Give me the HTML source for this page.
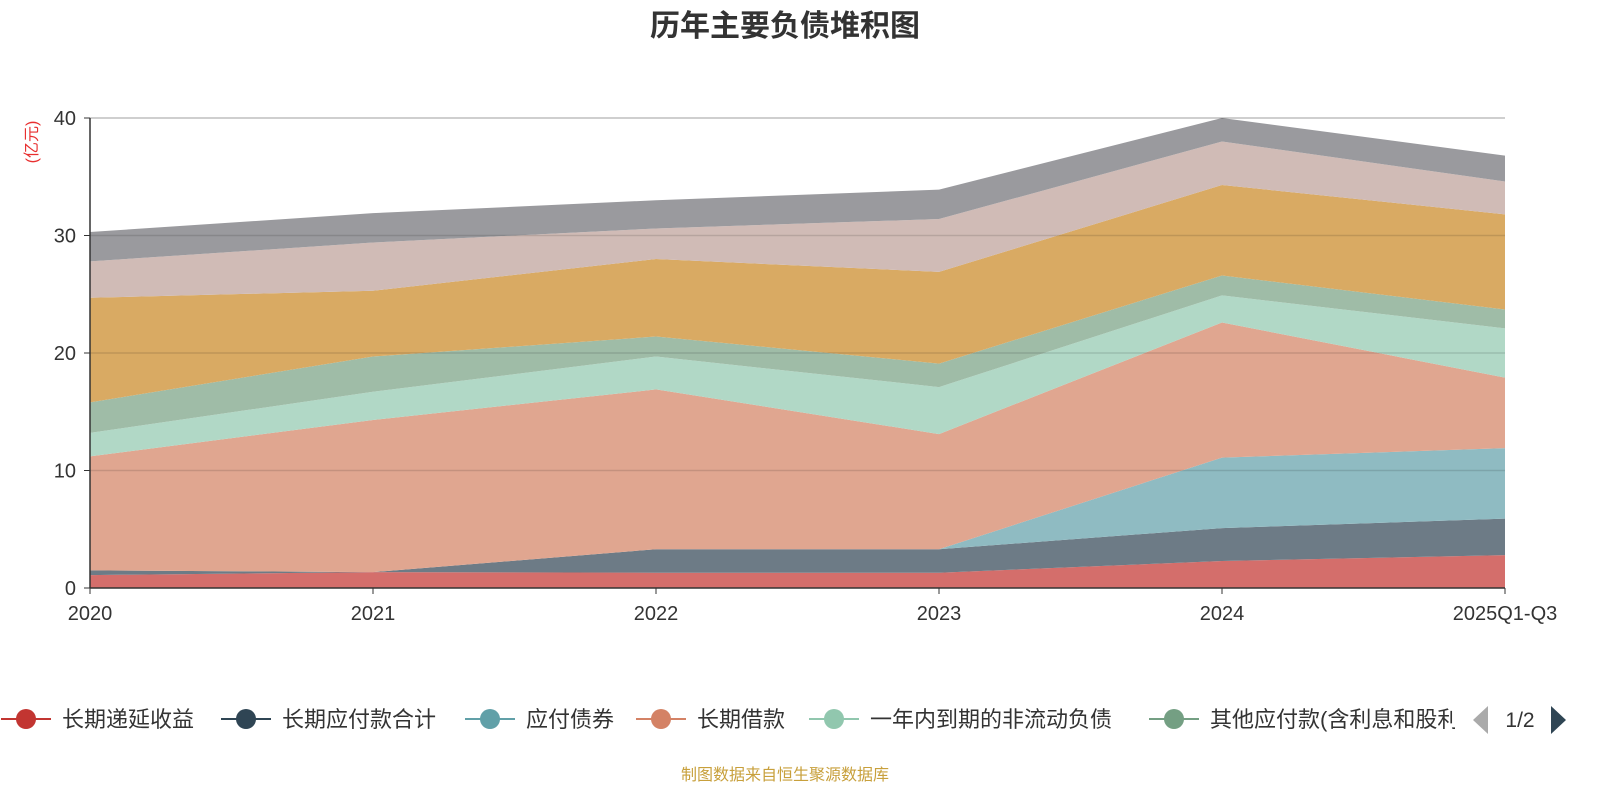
<!DOCTYPE html>
<html><head><meta charset="utf-8">
<style>
body{margin:0;background:#fff;font-family:"Liberation Sans","Noto Sans CJK SC",sans-serif;}
#wrap{position:relative;width:1600px;height:800px;overflow:hidden;}
</style></head>
<body>
<div id="wrap">
<svg id="chart" width="1600" height="800" xmlns="http://www.w3.org/2000/svg">
<defs><clipPath id="legclip"><rect x="0" y="690" width="1455" height="60"/></clipPath></defs>
<text x="785" y="36" text-anchor="middle" font-size="30" font-weight="bold" fill="#333" font-family="Liberation Sans, Noto Sans CJK SC, sans-serif">历年主要负债堆积图</text>
<text x="0" y="0" transform="translate(37,142) rotate(-90)" text-anchor="middle" font-size="16" fill="#e83030" font-family="Liberation Sans, Noto Sans CJK SC, sans-serif">(亿元)</text>
<g id="grid"></g><g id="areas"></g><g id="axes"></g><g id="legend" clip-path="url(#legclip)"></g><g id="pager"></g>
<text x="785" y="780" text-anchor="middle" font-size="16" fill="#c8a03c" font-family="Liberation Sans, Noto Sans CJK SC, sans-serif">制图数据来自恒生聚源数据库</text>
</svg>
</div>
<script>
const categories=["2020","2021","2022","2023","2024","2025Q1-Q3"];
const seriesNames=["长期递延收益","长期应付款合计","应付债券","长期借款","一年内到期的非流动负债","其他应付款(含利息和股利)","应付账款","应付票据","短期借款"];
const s1=[1.1,1.35,1.3,1.3,2.3,2.8];
const s2=[0.4,0,2.0,2.0,2.8,3.1];
const s3=[0,0,0,0,6.0,6.0];
const s4=[9.7,12.95,13.6,9.8,11.5,6.0];
const s5=[2.0,2.4,2.8,4.0,2.3,4.2];
const s6=[2.6,3.0,1.7,2.0,1.7,1.6];
const s7=[8.9,5.6,6.6,7.8,7.7,8.1];
const s8=[3.1,4.1,2.6,4.5,3.7,2.8];
const s9=[2.5,2.5,2.4,2.5,2.0,2.2];
const seriesValues=[s1,s2,s3,s4,s5,s6,s7,s8,s9];
const yTicks=[0,10,20,30,40];
const colors=["#d46e6b","#6d7b86","#8fbbc2","#e0a690","#b1d8c6","#9fbca7","#d9aa63","#d0bbb6","#9a9a9e"];
const legendColors=["#c23531","#2f4554","#61a0a8","#d48265","#91c7ae","#749f83"];
const NS="http://www.w3.org/2000/svg";
const X0=90,X1=1505,Y0=588,Y1=118,YMAX=40;
const xs=i=>X0+(X1-X0)*i/(categories.length-1);
const ys=v=>Y0-(Y0-Y1)*v/YMAX;
function mk(tag,attrs,parent){const e=document.createElementNS(NS,tag);for(const k in attrs)e.setAttribute(k,attrs[k]);parent.appendChild(e);return e;}
const areas=document.getElementById('areas'),axes=document.getElementById('axes'),legend=document.getElementById('legend'),pager=document.getElementById('pager');
let base=categories.map(()=>0);
seriesValues.forEach((vals,si)=>{
  const top=base.map((b,i)=>b+vals[i]);
  let d="M"+categories.map((c,i)=>xs(i)+","+ys(top[i])).join(" L");
  for(let i=categories.length-1;i>=0;i--)d+=" L"+xs(i)+","+ys(base[i]);
  d+="Z";
  const p=mk('path',{d:d,fill:colors[si],stroke:'none'},areas);
  
  
  base=top;
});
yTicks.forEach(t=>{
  const l=mk('line',{x1:X0,x2:X1,y1:ys(t),y2:ys(t),stroke:t===0?'none':'#000','stroke-opacity':t===40?0.25:0.12,'stroke-width':1.5},axes);
  
  
  const tk=mk('line',{x1:X0-6,x2:X0,y1:ys(t),y2:ys(t),stroke:'#333','stroke-width':1},axes);
  
  
  const tx=mk('text',{x:X0-14,y:ys(t)+7,'text-anchor':'end','font-size':20,fill:'#333'},axes);
  tx.textContent=t;
  
  
});
const ya=mk('line',{x1:X0,x2:X0,y1:Y1,y2:Y0,stroke:'#333','stroke-width':1.5},axes);


const xa=mk('line',{x1:X0,x2:X1,y1:Y0,y2:Y0,stroke:'#333','stroke-width':1.5},axes);


categories.forEach((c,i)=>{
  const tk=mk('line',{x1:xs(i),x2:xs(i),y1:Y0,y2:Y0+6,stroke:'#333'},axes);
  
  
  const tx=mk('text',{x:xs(i),y:620,'text-anchor':'middle','font-size':20,fill:'#333'},axes);
  tx.textContent=c;
  
  
});
const legText=[62,282,526,697,870,1210];
for(let i=0;i<6;i++){
  const g=mk('g',{},legend);
  
  
  const cx=legText[i]-36;
  mk('line',{x1:cx-25,x2:cx+25,y1:719,y2:719,stroke:legendColors[i],'stroke-width':2},g);
  mk('circle',{cx:cx,cy:719,r:10,fill:legendColors[i]},g);
  const t=mk('text',{x:legText[i],y:727,'font-size':22,fill:'#333'},g);
  t.textContent=seriesNames[i];
}
const pg=mk('g',{},pager);


const pl=mk('path',{d:'M1488,706 L1473,720 L1488,734 Z',fill:'#aaa'},pg);


const pt=mk('text',{x:1520,y:727,'text-anchor':'middle','font-size':21,fill:'#333'},pg);
pt.textContent='1/2';


const pn=mk('path',{d:'M1551,706 L1566,720 L1551,734 Z',fill:'#2f4554'},pg);


</script>
</body></html>
